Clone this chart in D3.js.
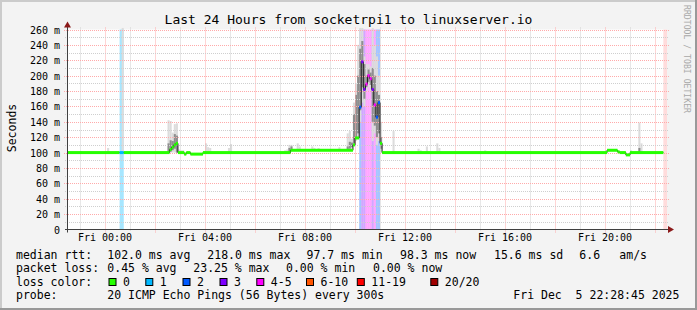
<!DOCTYPE html>
<html>
<head>
<meta charset="utf-8">
<script src="https://cdn.jsdelivr.net/npm/d3@7"></script>
<style>
  html, body { margin: 0; padding: 0; background: #f3f3f3; }
  svg { display: block; font-family: "DejaVu Sans Mono", monospace; }
  text { white-space: pre; }
</style>
</head>
<body>
<div id="chart"></div>
<script>
const width = 697;
const height = 310;

const title = "Last 24 Hours from socketrpi1 to linuxserver.io";
const timeStart = "Thu 22:28:45";
const timeEnd = "Fri 22:28:45";
const dataEnd = "22:20";

const yTickValues = [0, 20, 40, 60, 80, 100, 120, 140, 160, 180, 200, 220, 240, 260];
const xTickLabels = ["Fri 00:00", "Fri 04:00", "Fri 08:00", "Fri 12:00", "Fri 16:00", "Fri 20:00"];

const lossLabels = ["0", "1", "2", "3", "4-5", "6-10", "11-19", "20/20"];
const lossColors = ["#26ff00", "#00b8ff", "#0059ff", "#7e00ff", "#ff00ff", "#ff5500", "#ff0000", "#a00000"];

// median rtt: [step start, ms, loss colour index]
const medianSteps = [
  ["Thu 22:30", 100, 0], ["00:35", 100, 1], ["00:45", 100, 0],
  ["02:35", 104, 0], ["02:40", 107, 0], ["02:45", 110, 0], ["02:50", 112, 0],
  ["02:55", 100, 0], ["03:10", 98, 0], ["03:15", 100, 0], ["03:25", 98, 0],
  ["03:55", 100, 0], ["07:25", 103, 0], ["09:55", 110, 0], ["10:00", 119, 0],
  ["10:10", 159, 2], ["10:15", 218, 3], ["10:20", 182, 3], ["10:25", 189, 4],
  ["10:30", 200, 4], ["10:35", 196, 4], ["10:40", 182, 3], ["10:45", 162, 4],
  ["10:50", 146, 2], ["10:55", 165, 2], ["11:00", 112, 0], ["11:05", 100, 0],
  ["20:05", 103, 0], ["20:30", 101, 0], ["20:35", 100, 0], ["20:50", 97, 0],
  ["21:00", 100, 0]
];

// smoke: [step start, lowest ping ms, highest ping ms]
const smokeOuter = [
  ["Thu 23:00", 100, 102], ["00:05", 100, 106], ["00:40", 100, 265],
  ["02:30", 100, 142], ["02:35", 100, 141], ["02:40", 100, 126], ["02:45", 100, 137],
  ["02:50", 100, 138], ["02:55", 100, 104], ["03:00", 100, 103], ["03:05", 100, 103],
  ["04:00", 100, 112], ["04:05", 100, 107], ["04:10", 100, 106], ["04:55", 100, 106],
  ["05:00", 100, 111], ["07:10", 100, 103], ["07:15", 100, 104], ["07:20", 100, 110],
  ["07:25", 102, 110], ["07:40", 103, 112], ["07:45", 103, 108], ["08:15", 103, 108],
  ["08:20", 103, 106], ["08:30", 103, 106], ["09:20", 103, 107], ["09:40", 103, 125],
  ["09:45", 104, 128], ["09:50", 105, 118], ["09:55", 110, 165], ["10:00", 115, 190],
  ["10:05", 118, 240], ["10:10", 140, 265], ["10:15", 165, 265], ["10:20", 160, 225],
  ["10:25", 180, 215], ["10:30", 185, 215], ["10:35", 180, 212], ["10:40", 115, 265],
  ["10:45", 125, 240], ["10:50", 110, 225], ["10:55", 115, 200], ["11:00", 100, 140],
  ["11:30", 100, 128], ["12:30", 100, 105], ["12:35", 100, 103], ["12:50", 100, 108],
  ["13:15", 100, 112], ["13:20", 100, 106], ["15:10", 100, 103], ["18:30", 100, 102],
  ["20:00", 100, 103], ["21:00", 100, 103], ["21:20", 100, 139], ["21:25", 100, 112],
  ["21:30", 100, 102]
];

// darker core of the smoke: [step start, low ms, high ms]
const smokeInner = [
  ["02:30", 100, 112], ["02:35", 101, 116], ["02:40", 103, 115], ["02:45", 105, 124],
  ["02:50", 100, 122], ["07:20", 100, 106], ["07:25", 102, 108], ["09:40", 103, 108],
  ["09:45", 105, 114], ["09:50", 107, 113], ["09:55", 112, 150], ["10:00", 118, 175],
  ["10:05", 125, 200], ["10:10", 155, 235], ["10:15", 185, 245], ["10:20", 170, 215],
  ["10:25", 185, 200], ["10:30", 192, 208], ["10:35", 188, 204], ["10:40", 140, 210],
  ["10:45", 135, 200], ["10:50", 120, 180], ["10:55", 125, 175], ["11:00", 105, 120],
  ["21:20", 100, 106]
];

const medianStats = ["102.0 ms avg", "218.0 ms max", "97.7 ms min", "98.3 ms now", "15.6 ms sd", "6.6", "am/s"];
const lossStats = ["0.45 % avg", "23.25 % max", "0.00 % min", "0.00 % now"];
const probeText = "20 ICMP Echo Pings (56 Bytes) every 300s";
const stamp = "Fri Dec  5 22:28:45 2025";

function parseTime(s) {
  const parts = s.split(" ");
  const day = parts.length > 1 ? parts[0] : "Fri";
  const [h, m, sec] = parts[parts.length - 1].split(":").map(Number);
  return new Date(Date.UTC(2025, 11, day === "Thu" ? 4 : 5, h, m, sec || 0));
}

const step = 5 * 60 * 1000;
const plotLeft = 67, plotRight = 667, plotTop = 29.5, plotBottom = 229.5;

const x = d3.scaleUtc()
  .domain([parseTime(timeStart), parseTime(timeEnd)])
  .range([plotLeft, plotRight]);
const y = d3.scaleLinear().domain([0, 260]).range([plotBottom, plotTop]);
const clampY = (v) => y(Math.min(v, 262));

const svg = d3.select("#chart").append("svg")
  .attr("width", width)
  .attr("height", height);

// frame
svg.append("rect").attr("width", width).attr("height", height).attr("fill", "#f3f3f3");
svg.append("path").attr("d", `M0,1H${width}M1,0V${height}`).attr("stroke", "#cbcbcb").attr("stroke-width", 2);
svg.append("path").attr("d", `M0,${height - 1}H${width}M${width - 1},0V${height}`).attr("stroke", "#999").attr("stroke-width", 2);

// canvas
svg.append("rect")
  .attr("x", plotLeft).attr("y", plotTop)
  .attr("width", plotRight - plotLeft).attr("height", plotBottom - plotTop)
  .attr("fill", "#fff");

// loss bands
const steps = medianSteps.map((d, i) => ({
  t0: parseTime(d[0]),
  t1: parseTime(i + 1 < medianSteps.length ? medianSteps[i + 1][0] : dataEnd),
  v: d[1],
  loss: d[2]
}));

svg.append("g").selectAll("rect")
  .data(steps.filter((d) => d.loss > 0))
  .join("rect")
  .attr("x", (d) => x(d.t0))
  .attr("width", (d) => x(d.t1) - x(d.t0))
  .attr("y", plotTop)
  .attr("height", plotBottom - plotTop)
  .attr("fill", (d) => lossColors[d.loss])
  .attr("fill-opacity", 0.35);

// no data yet at the end
svg.append("rect")
  .attr("x", x(parseTime(dataEnd)))
  .attr("width", plotRight - x(parseTime(dataEnd)))
  .attr("y", plotTop)
  .attr("height", plotBottom - plotTop)
  .attr("fill", "#ffdcdc");

// smoke
function drawSmoke(data, color) {
  svg.append("g").selectAll("rect")
    .data(data)
    .join("rect")
    .attr("x", (d) => x(parseTime(d[0])))
    .attr("width", (d) => x(new Date(+parseTime(d[0]) + step)) - x(parseTime(d[0])))
    .attr("y", (d) => clampY(d[2]))
    .attr("height", (d) => clampY(d[1]) - clampY(d[2]))
    .attr("fill", color);
}
drawSmoke(smokeOuter, "#dcdcdc");
drawSmoke(smokeInner, "#8e8e8e");

// grid
const grid = svg.append("g").attr("stroke-width", 1).attr("stroke-dasharray", "1,1");
const hourTicks = d3.utcHour.range(x.domain()[0], x.domain()[1]);

grid.selectAll(".vminor")
  .data(hourTicks.filter((d) => d.getUTCHours() % 2 !== 0))
  .join("line")
  .attr("x1", (d) => Math.round(x(d)) + 0.5).attr("x2", (d) => Math.round(x(d)) + 0.5)
  .attr("y1", plotTop - 2).attr("y2", plotBottom + 2)
  .attr("stroke", "#cfcfcf");

grid.selectAll(".vmajor")
  .data(hourTicks.filter((d) => d.getUTCHours() % 2 === 0))
  .join("line")
  .attr("x1", (d) => Math.round(x(d)) + 0.5).attr("x2", (d) => Math.round(x(d)) + 0.5)
  .attr("y1", plotTop - 2).attr("y2", plotBottom + 3)
  .attr("stroke", "#ffaaaa");

grid.selectAll(".hminor")
  .data(d3.range(10, 260, 20))
  .join("line")
  .attr("x1", plotLeft - 2).attr("x2", plotRight + 2)
  .attr("y1", (d) => Math.round(y(d)) + 0.5).attr("y2", (d) => Math.round(y(d)) + 0.5)
  .attr("stroke", "#cfcfcf");

grid.selectAll(".hmajor")
  .data(yTickValues.slice(1))
  .join("line")
  .attr("x1", plotLeft - 3).attr("x2", plotRight + 2)
  .attr("y1", (d) => Math.round(y(d)) + 0.5).attr("y2", (d) => Math.round(y(d)) + 0.5)
  .attr("stroke", "#ffaaaa");

// median: thin connecting line then loss coloured bars
const medianLine = d3.line()
  .x((d) => x(d[0]))
  .y((d) => y(d[1]))
  .curve(d3.curveStepAfter);

const lastStep = steps[steps.length - 1];
svg.append("path")
  .attr("d", medianLine(steps.map((d) => [d.t0, d.v]).concat([[lastStep.t1, lastStep.v]])))
  .attr("fill", "none")
  .attr("stroke", "#202020")
  .attr("stroke-width", 1);

svg.append("g").selectAll("rect")
  .data(steps)
  .join("rect")
  .attr("x", (d) => x(d.t0))
  .attr("width", (d) => x(d.t1) - x(d.t0))
  .attr("y", (d) => y(d.v) - 1.5)
  .attr("height", 3)
  .attr("fill", (d) => lossColors[d.loss]);

// axes
svg.append("path")
  .attr("d", `M${plotLeft + 0.5},${plotBottom + 3}V${plotTop - 4}M${plotLeft - 2},${plotBottom}H${plotRight + 2}`)
  .attr("stroke", "#404040")
  .attr("fill", "none");
svg.append("path").attr("d", `M${plotLeft + 0.5},${plotTop - 8}l-3.5,6h7z`).attr("fill", "#8b1a1a");
svg.append("path").attr("d", `M${plotRight + 7},${plotBottom}l-6,-3.5v7z`).attr("fill", "#8b1a1a");

// y labels
svg.append("g").selectAll("text")
  .data(yTickValues)
  .join("text")
  .attr("x", 60)
  .attr("y", (d) => Math.round(y(d)) + 4)
  .attr("text-anchor", "end")
  .attr("font-size", 10)
  .attr("fill", "#000")
  .text((d) => (d === 0 ? "0" : d + " m"));

// x labels
svg.append("g").selectAll("text")
  .data(xTickLabels)
  .join("text")
  .attr("x", (d) => x(parseTime(d)))
  .attr("y", 241)
  .attr("text-anchor", "middle")
  .attr("font-size", 10)
  .text((d) => d);

// title and side labels
svg.append("text")
  .attr("x", width / 2).attr("y", 24)
  .attr("text-anchor", "middle")
  .attr("font-size", 13)
  .text(title);

svg.append("text")
  .attr("transform", "translate(15.5,128) rotate(-90)")
  .attr("text-anchor", "middle")
  .attr("font-size", 11.5)
  .text("Seconds");

svg.append("text")
  .attr("transform", "translate(684,5) rotate(90)")
  .attr("font-size", 9)
  .attr("textLength", 108)
  .attr("lengthAdjust", "spacingAndGlyphs")
  .attr("fill", "#a8a8a8")
  .text("RRDTOOL / TOBI OETIKER");

// legend
const legend = svg.append("g").attr("font-size", 11.5).attr("fill", "#000");
const row = (yy, items) => items.forEach(([xx, s]) => legend.append("text").attr("x", xx).attr("y", yy).text(s));

const medianX = [107.3, 207.3, 306.5, 400, 494, 579.3, 619.3];
row(258.5, [[16, "median rtt:"]].concat(medianStats.map((s, i) => [medianX[i], s])));

const lossX = [107.3, 193.3, 286, 373];
row(272, [[16, "packet loss:"]].concat(lossStats.map((s, i) => [lossX[i], s])));

const boxX = [108.5, 145.3, 182.5, 219.5, 256.3, 306, 356.8, 430.3];
row(285.5, [[16, "loss color:"]]);
lossLabels.forEach((s, i) => {
  legend.append("rect")
    .attr("x", boxX[i] + 0.5).attr("y", 278.5)
    .attr("width", 7).attr("height", 7)
    .attr("fill", lossColors[i])
    .attr("stroke", "#000");
  legend.append("text").attr("x", boxX[i] + 14.5).attr("y", 285.5).text(s);
});

row(299, [[16, "probe:"], [107.3, probeText], [513.3, stamp]]);
</script>
</body>
</html>
